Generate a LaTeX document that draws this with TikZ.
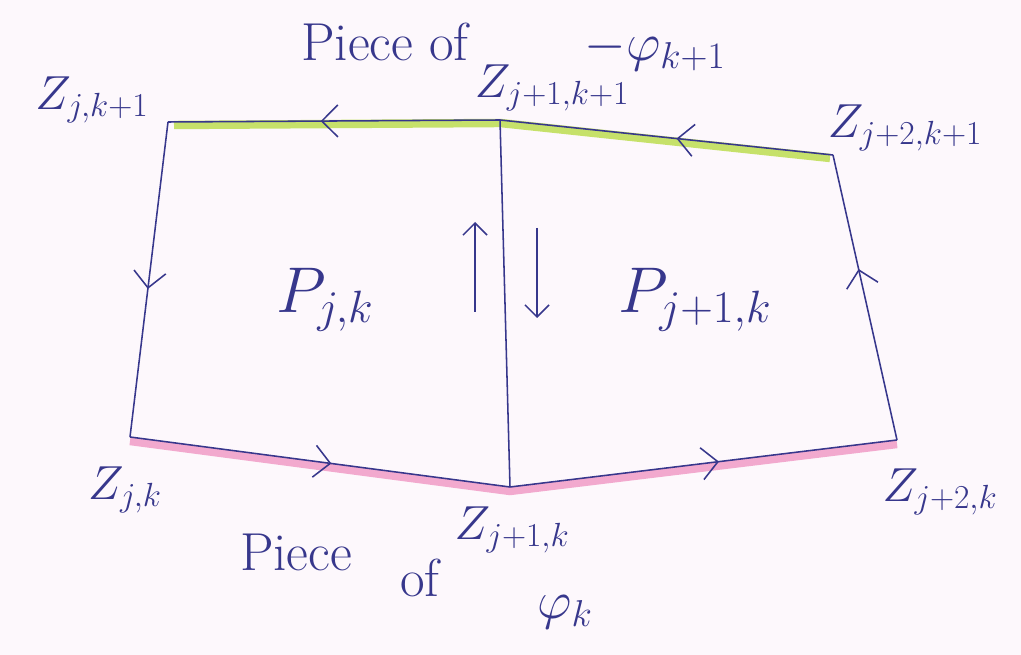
\RequirePackage{fix-cm}
\documentclass[tikz,border=0pt]{standalone}
\usetikzlibrary{arrows.meta,decorations.markings,calc}
\definecolor{ink}{RGB}{55,55,140}
\definecolor{paper}{RGB}{253,248,252}
\definecolor{hlgreen}{RGB}{185,220,70}
\definecolor{hlpink}{RGB}{240,150,195}
\tikzset{
  side/.style={draw=ink,line width=1.1pt},
  flow/.style={postaction={decorate},decoration={markings,
    mark=at position #1 with {\arrow[ink,line width=1.1pt]{Straight Barb[length=4mm,width=8mm]}}}},
  hilite/.style={line width=6pt,draw=#1,opacity=.8},
  lbl/.style={text=ink,font=\fontsize{34}{40}\selectfont,inner sep=1pt},
  caption/.style={text=ink,font=\fontsize{38}{46}\selectfont,inner sep=1pt},
  big/.style={text=ink,font=\fontsize{46}{54}\selectfont},
}
\begin{document}
\begin{tikzpicture}[x=0.025cm,y=-0.025cm]
\fill[paper] (0,0) rectangle (1021,655);
\useasboundingbox (0,0) rectangle (1021,655);
% corners of the two cells
\coordinate (z0t) at (168,122);
\coordinate (z1t) at (500,120);
\coordinate (z2t) at (833,155);
\coordinate (z0b) at (130,437);
\coordinate (z1b) at (510,487);
\coordinate (z2b) at (897,440);
% highlighter
\draw[hilite=hlgreen] ($(z0t)+(6,3)$) -- ($(z1t)+(0,3)$) -- ($(z2t)+(-3,3)$);
\draw[hilite=hlpink] ($(z0b)+(0,4)$) -- ($(z1b)+(0,4)$) -- ($(z2b)+(0,4)$);
% edges
\draw[side,flow=.54] (z1t) -- (z0t);
\draw[side,flow=.47] (z2t) -- (z1t);
\draw[side,flow=.53] (z0t) -- (z0b);
\draw[side,flow=.6] (z2b) -- (z2t);
\draw[side,flow=.53] (z0b) -- (z1b);
\draw[side,flow=.54] (z1b) -- (z2b);
\draw[side] (z1t) -- (z1b);
% arrows on the shared side
\coordinate (upa) at (475,312);
\coordinate (upb) at (475,222);
\coordinate (dna) at (537,228);
\coordinate (dnb) at (537,318);
\draw[ink,line width=1.1pt,-{Straight Barb[length=3mm,width=6mm]}] (upa) -- (upb);
\draw[ink,line width=1.1pt,-{Straight Barb[length=3mm,width=6mm]}] (dna) -- (dnb);
% labels
\node[lbl] (l0t) at (92,100) {$Z_{j,k+1}$};
\node[lbl] (l1t) at (552,88) {$Z_{j+1,k+1}$};
\node[lbl] (l2t) at (905,128) {$Z_{j+2,k+1}$};
\node[lbl] (l0b) at (125,490) {$Z_{j,k}$};
\node[lbl] (l1b) at (512,530) {$Z_{j+1,k}$};
\node[lbl] (l2b) at (940,492) {$Z_{j+2,k}$};
\node[big] (p0) at (325,300) {$P_{j,k}$};
\node[big] (p1) at (695,300) {$P_{j+1,k}$};
\node[caption] (topcap) at (385,42) {Piece of};
\node[caption] (topcurve) at (655,50) {$-\varphi_{k+1}$};
\node[caption] (botcap) at (296,552) {Piece};
\node[caption] (botof) at (420,578) {of};
\node[caption] (botcurve) at (565,612) {$\varphi_k$};
\end{tikzpicture}
\end{document}
